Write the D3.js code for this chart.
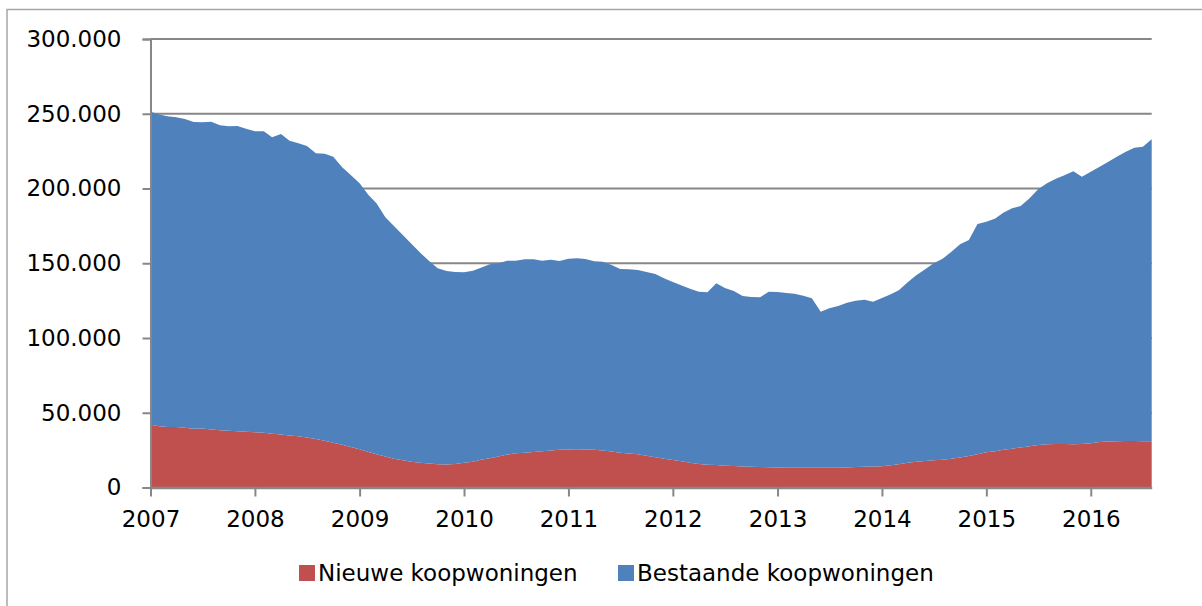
<!DOCTYPE html>
<html>
<head>
<meta charset="utf-8">
<script src="https://cdn.jsdelivr.net/npm/d3@7"></script>
<style>
    body { margin: 0; background: #fff; }
    svg { display: block; font-family: "DejaVu Sans", Verdana, sans-serif; }
</style>
</head>
<body>
<svg id="chart"></svg>
<script>
(function() {

    // Data (x 1000), monthly from Jan 2007 to Aug 2016
    const nieuwe = [
        42, 41, 40.5, 40.5, 40, 39.3, 39.5, 38.8, 38.3, 38, 37.7, 37.3,
        37, 36.6, 36, 35.4, 34.8, 34.2, 33.5, 32.5, 31.3, 30, 28.6, 27.1,
        25.6, 23.8, 22.2, 20.7, 19.3, 18.2, 17.2, 16.5, 16, 15.5, 15.4, 15.8,
        16.6, 17.3, 18.5, 19.5, 20.8, 22, 22.9, 23.3, 23.7, 24.2, 24.8, 25.2,
        25.5, 25.6, 25.5, 25.3, 24.7, 24, 23.2, 22.7, 22.2, 21.3, 20.3, 19.3,
        18.4, 17.5, 16.6, 15.8, 15.3, 15, 14.6, 14.4, 14.1, 13.9, 13.7, 13.5,
        13.3, 13.2, 13.2, 13.2, 13.2, 13.2, 13.2, 13.2, 13.4, 13.7, 13.8, 14,
        14.2, 14.8, 15.6, 16.5, 17.3, 17.7, 18.2, 18.6, 19.2, 20, 21, 22.2,
        23.5, 24.3, 25.2, 26, 26.8, 27.6, 28.4, 29, 29.1, 29.1, 29, 29.1,
        29.6, 30.5, 30.8, 31, 31.1, 31.1, 31, 30.9
    ];
    const bestaande = [
        209.4, 208.5, 207.8, 207.1, 206.5, 205.2, 204.8, 205.9, 204.0, 203.6, 204.1, 202.7,
        201.3, 201.7, 198.2, 201.1, 197.2, 196.0, 194.9, 191.0, 192.0, 191.3, 185.6, 181.9,
        177.9, 171.8, 167.9, 160.0, 155.6, 150.7, 145.8, 140.5, 135.5, 131.1, 129.4, 128.4,
        127.3, 127.7, 128.5, 129.8, 129.2, 129.7, 128.8, 129.3, 128.9, 127.5, 127.6, 126.3,
        127.5, 127.7, 127.3, 126.0, 126.3, 124.8, 123.0, 123.3, 123.3, 122.8, 122.5, 120.7,
        119.1, 117.7, 116.4, 115.2, 115.3, 121.6, 118.8, 117.0, 114.0, 113.5, 113.5, 117.5,
        117.5, 116.9, 116.4, 115.1, 113.4, 104.4, 106.7, 108.2, 110.2, 111.2, 111.8, 110.3,
        112.6, 114.4, 116.4, 120.8, 124.7, 128.3, 131.8, 134.4, 138.5, 142.7, 144.5, 154.1,
        154.3, 155.7, 158.6, 160.8, 161.5, 165.8, 171.1, 174.5, 177.5, 179.7, 182.5, 178.8,
        181.6, 184.1, 186.9, 190.3, 193.3, 196.2, 197.0, 202.0
    ];
    const seriesNames = ['Nieuwe koopwoningen', 'Bestaande koopwoningen'];
    const seriesColors = ['#C0504D', '#4F81BD'];
    const yTicks = [0, 50, 100, 150, 200, 250, 300];
    const yTickLabels = ['0', '50.000', '100.000', '150.000', '200.000', '250.000', '300.000'];
    const years = [2007, 2008, 2009, 2010, 2011, 2012, 2013, 2014, 2015, 2016];

    const w = 1202;
    const h = 606;
    const left = 150.5, right = 1151.7, top = 39, bottom = 487.5;
    const fontSize = 23;

    const months = d3.timeMonth.range(new Date(2007, 0, 1), new Date(2016, 8, 1));
    const rows = months.map((m, i) => ({ date: m, nieuw: nieuwe[i], bestaand: bestaande[i] }));

    const scaleX = d3.scaleTime()
        .domain([months[0], months[months.length - 1]])
        .range([left, right]);
    const scaleY = d3.scaleLinear().domain([0, 300]).range([bottom, top]);

    const svg = d3.select('#chart').attr('width', w).attr('height', h);

    // frame
    svg.append('rect')
        .attr('x', 7).attr('y', 9.5)
        .attr('width', w + 20).attr('height', h + 20)
        .attr('fill', 'none')
        .attr('stroke', '#a6a6a6')
        .attr('stroke-width', 1.5);

    // gridlines
    svg.append('g')
        .selectAll('line')
        .data(yTicks.slice(1))
        .enter()
        .append('line')
        .attr('x1', left).attr('x2', right)
        .attr('y1', d => scaleY(d)).attr('y2', d => scaleY(d))
        .attr('stroke', '#878787')
        .attr('stroke-width', 2);

    // stacked areas
    const stack = d3.stack().keys(['nieuw', 'bestaand']);
    const layers = stack(rows);
    const area = d3.area()
        .x(d => scaleX(d.data.date))
        .y0(d => scaleY(d[0]))
        .y1(d => scaleY(d[1]));

    svg.append('g')
        .selectAll('path')
        .data(layers)
        .enter()
        .append('path')
        .attr('d', area)
        .attr('fill', (d, i) => seriesColors[i]);

    // Y axis
    const yAxis = d3.axisLeft(scaleY)
        .tickValues(yTicks)
        .tickFormat((d, i) => yTickLabels[i])
        .tickSize(8)
        .tickPadding(21);

    const gy = svg.append('g')
        .attr('transform', `translate(${left}, 0)`)
        .call(yAxis);
    gy.select('.domain').attr('stroke', '#878787').attr('stroke-width', 2);
    gy.selectAll('.tick line').attr('stroke', '#878787').attr('stroke-width', 2);
    gy.selectAll('.tick text')
        .attr('font-size', fontSize)
        .attr('font-family', '"DejaVu Sans", Verdana, sans-serif')
        .attr('fill', '#000');

    // X axis
    const xAxis = d3.axisBottom(scaleX)
        .tickValues(years.map(y => new Date(y, 0, 1)))
        .tickFormat(d => d.getFullYear())
        .tickSize(9)
        .tickSizeOuter(0)
        .tickPadding(14);

    const gx = svg.append('g')
        .attr('transform', `translate(0, ${bottom})`)
        .call(xAxis);
    gx.select('.domain').attr('stroke', '#878787').attr('stroke-width', 2.5);
    gx.selectAll('.tick line').attr('stroke', '#878787').attr('stroke-width', 2);
    gx.selectAll('.tick text')
        .attr('font-size', fontSize)
        .attr('font-family', '"DejaVu Sans", Verdana, sans-serif')
        .attr('fill', '#000');

    // Legend
    const legendX = [299, 618];
    const legend = svg.append('g')
        .selectAll('g')
        .data(seriesNames)
        .enter()
        .append('g')
        .attr('transform', (d, i) => `translate(${legendX[i]}, 565)`);

    legend.append('rect')
        .attr('width', 16).attr('height', 16)
        .attr('fill', (d, i) => seriesColors[i]);

    legend.append('text')
        .attr('x', 19).attr('y', 15.5)
        .attr('font-size', fontSize)
        .attr('fill', '#000')
        .text(d => d);

})();
</script>
</body>
</html>
